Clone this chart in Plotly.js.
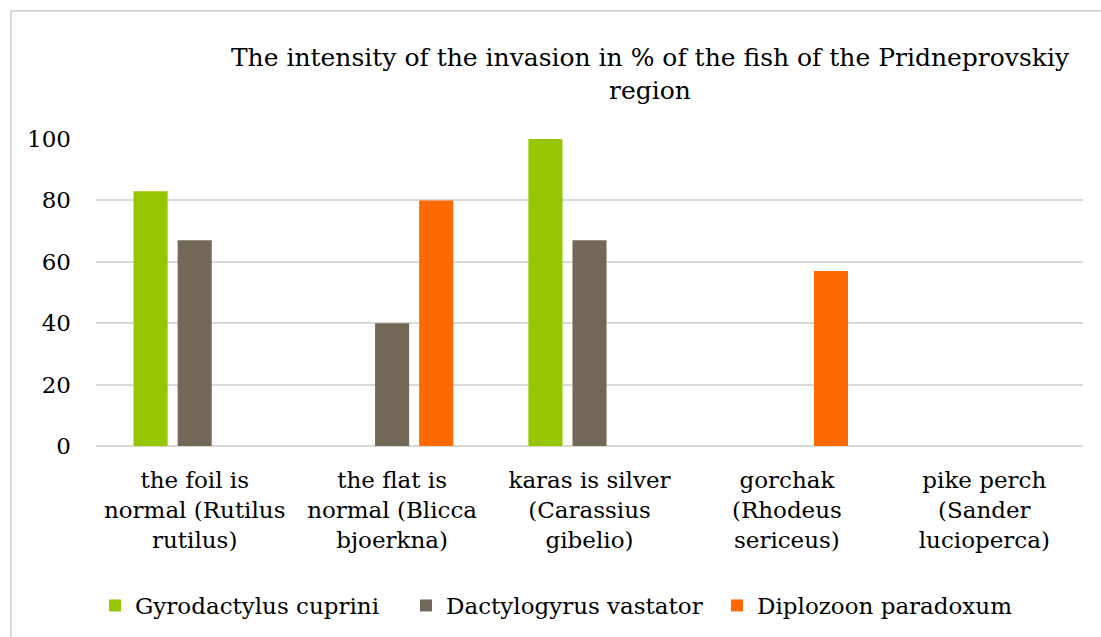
<!DOCTYPE html>
<html>
<head>
<meta charset="utf-8">
<script src="https://cdn.plot.ly/plotly-3.0.1.min.js"></script>
<style>
html,body{margin:0;padding:0;background:#fff;overflow:hidden;}
#chart{position:absolute;left:0;top:0;width:1101px;height:637px;}
#frame{position:absolute;left:10px;top:10px;width:1200px;height:800px;border-left:2px solid #d9d9d9;border-top:2px solid #d9d9d9;pointer-events:none;}
</style>
</head>
<body>
<div id="chart"></div>
<div id="frame"></div>
<script>
const categories = [
  "the foil is<br>normal (Rutilus<br>rutilus)",
  "the flat is<br>normal (Blicca<br>bjoerkna)",
  "karas is silver<br>(Carassius<br>gibelio)",
  "gorchak<br>(Rhodeus<br>sericeus)",
  "pike perch<br>(Sander<br>lucioperca)"
];
const seriesNames = ["Gyrodactylus cuprini", "Dactylogyrus vastator", "Diplozoon paradoxum"];
const gyrodactylus = [83, 0, 100, 0, 0];
const dactylogyrus = [67, 40, 67, 0, 0];
const diplozoon = [0, 80, 0, 57, 0];
const yTicks = [0, 20, 40, 60, 80, 100];

const colors = ["#95c600", "#736857", "#ff6a00"];
const serif = "DejaVu Serif";

const data = [gyrodactylus, dactylogyrus, diplozoon].map((vals, i) => ({
  type: "bar",
  name: seriesNames[i],
  x: categories,
  y: vals,
  marker: {color: colors[i]},
  hoverinfo: "y"
}));

const layout = {
  width: 1101,
  height: 637,
  font: {family: serif},
  paper_bgcolor: "#ffffff",
  plot_bgcolor: "#ffffff",
  margin: {l: 96, r: 18, t: 139, b: 191},
  barmode: "group",
  bargap: 0.33,
  bargroupgap: 0.227,
  title: {
    text: "The intensity of the invasion in % of the fish of the Pridneprovskiy<br>region",
    font: {family: serif, size: 25, color: "#000"},
    x: 650/1101, xref: "container", xanchor: "center",
    y: 1 - 66/637, yref: "container", yanchor: "top"
  },
  xaxis: {
    type: "category",
    tickfont: {family: serif, size: 23, color: "#000"},
    showgrid: false,
    showline: false,
    zeroline: false,
    ticks: "",
    ticklen: 0,
    ticklabelstandoff: 18,
    automargin: false
  },
  yaxis: {
    range: [0, 100],
    tickvals: yTicks,
    ticktext: yTicks.map(String),
    tickfont: {family: serif, size: 23, color: "#000"},
    showgrid: true,
    gridcolor: "#d9d9d9",
    gridwidth: 2,
    zeroline: true,
    zerolinecolor: "#d9d9d9",
    zerolinewidth: 2,
    showline: false,
    ticks: "",
    ticklabelstandoff: 24,
    automargin: false
  },
  legend: {
    orientation: "h",
    x: 95/1101, xanchor: "left", xref: "container",
    y: 1 - 584/637, yref: "container", yanchor: "top",
    font: {family: serif, size: 23, color: "#000"},
    itemwidth: 30,
    entrywidth: 266,
    entrywidthmode: "pixels",
    traceorder: "normal"
  },
  showlegend: true
};

Plotly.newPlot("chart", data, layout, {staticPlot: true, displayModeBar: false});
</script>
</body>
</html>
